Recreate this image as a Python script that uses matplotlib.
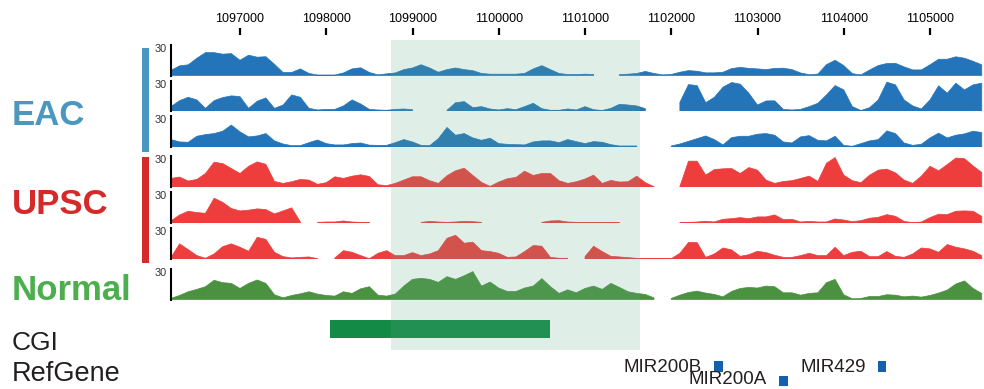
import numpy as np
import matplotlib
matplotlib.use("Agg")
import matplotlib.pyplot as plt
from matplotlib.patches import Rectangle

nan = np.nan

# ---------------- data ----------------
bin_start = 1096200
bin_size = 100

eac1 = [5, 9.5, 10.5, 17, 22.5, 22.5, 21, 21.5, 15, 20,
        18, 18.5, 11, 3, 3, 6.5, 2, 0.5, 0.5, 0.5,
        2.5, 6.5, 7.6, 3, 0.6, 1.6, 2.5, 5.8, 7.4, 10.6,
        7.4, 3.2, 5.8, 7.4, 5.8, 4.8, 2, 1.3, 1.3, 1.3,
        1.3, 2, 6.5, 9.7, 5.8, 2, 1, 1, 1.3, 1,
        nan, nan, 1, 1.3, 2, 4, 2, 0.6, 1, 3.2,
        4.8, 4.2, 2.6, 2.6, 3.2, 6.8, 8, 7, 6.5, 5.8,
        7, 7.2, 5.8, 2.5, 0.8, 1.4, 10.7, 15, 9.8, 1.8,
        0.6, 5.4, 9.8, 11.8, 12, 8.5, 5.5, 5.5, 10.5, 16,
        16, 18.4, 17, 14, 10.5]

eac2 = [4.3, 10.2, 13.5, 10.9, 2.6, 10.2, 13.2, 14.9, 14.2, 2.6,
        9.6, 12.9, 2.6, 5.9, 15.8, 13.5, 2.6, 1, 1.6, 1.6,
        5, 10.9, 6.9, 1.6, 1, 0.7, 1.6, 2, 1.3, nan,
        nan, nan, 0.7, 8.2, 9.2, 3.3, 4.3, 2, 1, 2.3,
        1.3, 4.3, 7.6, 2.3, 0.7, 0.7, 2, 1, 4.3, 1.3,
        0.5, 2.6, 6.6, 5.9, 5, 2.3, nan, nan, nan, 8.5,
        26, 25, 8.2, 13.5, 23.4, 28, 26.4, 17.5, 5.9, 9.9,
        10, 1.6, 1, 1.6, 4.3, 7.6, 15.8, 25, 20.8, 4.3,
        0.5, 3.3, 10.9, 28.4, 25.7, 10.9, 5, 2, 10.9, 24.8,
        17.5, 27.4, 20.8, 25.7, 27.4]

eac3 = [7.2, 4.9, 4.6, 10.4, 12, 13, 15.3, 21.2, 14.7, 9.8,
        10.7, 13, 5.9, 2.9, 1.3, 1.3, 4.2, 6.8, 3.3, 2,
        2, 3.3, 3.9, 1.8, 1.6, 1.6, 4.2, 7.2, 4.9, 1.6,
        1.3, 8.1, 18.9, 11.4, 13, 8.8, 6.5, 8.5, 3.3, 2.6,
        2.3, 2, 4.9, 5.9, 5.9, 4.2, 7.2, 5.2, 3.3, 5.2,
        4.6, 2.3, 1, 1, 1, nan, nan, nan, 1, 2.9,
        5.5, 8.1, 10.7, 7.2, 2, 9.1, 10.4, 10.4, 12.4, 13,
        11.4, 4.9, 3.9, 9.8, 11, 6.5, 5.9, 10.4, 1.6, 0.7,
        3.3, 5.9, 7.2, 15.6, 13, 3.9, 1.6, 2.6, 8.8, 13.4,
        8.8, 11.4, 12.7, 15.3, 14]

upsc1 = [8.3, 9.6, 5.8, 7.3, 13.1, 24, 22.7, 17.9, 13.1, 20,
         24.3, 22, 5.4, 3.5, 5.1, 7.3, 6.7, 2.6, 4.2, 9.9,
         8.3, 10.5, 11.8, 10.2, 2.2, 1.3, 3.5, 6.7, 9.9, 9.9,
         6.1, 3.5, 10.9, 15.7, 18.2, 11.2, 4.5, 0.6, 4.8, 8,
         9.3, 15.3, 11.2, 13.1, 13.1, 6.1, 3.5, 5.1, 7.7, 11.5,
         3.5, 6.4, 4.8, 5.1, 10.5, 4.2, 0.3, nan, nan, 0.5,
         25, 25, 11.5, 16.9, 17.6, 17.9, 13.1, 18.8, 16.3, 6.7,
         3.5, 5.4, 6.1, 8.3, 10.5, 5.4, 23, 28.5, 11.5, 6.1,
         4.2, 11.5, 16.3, 17.3, 13.7, 6.7, 3.5, 10.5, 20.1, 15.7,
         21.7, 28, 27.5, 20.4, 14]

upsc2 = [2, 7.8, 11.4, 10.1, 9.4, 24, 20, 14, 11.7, 12.4,
         13.7, 13, 8.8, 11.7, 14.7, 1, nan, 0.6, 1, 1,
         2, 1, 0.6, 0.6, nan, nan, nan, nan, nan, 0.6,
         1.6, 1, 0.6, 1, 1.6, 1.3, 0.6, nan, nan, nan,
         nan, nan, nan, 0.6, 2, 2.3, 1, 0.6, 0.3, 0.3,
         0.3, 0.3, 0.3, nan, nan, nan, nan, nan, nan, 0.6,
         0.6, 1, 1.6, 1, 3.6, 4.2, 5.2, 4.2, 5.9, 5.9,
         7.8, 3.3, 3.6, 1, 1.6, 1, 1, 3.9, 2.9, 1.3,
         2.3, 4.6, 5.5, 8.1, 6.5, 1.6, 0.3, 1, 5.2, 8.5,
         8.1, 11.4, 11.7, 11.4, 6.5]

upsc3 = [1.6, 14.7, 9.1, 3.3, 0.7, 4.9, 12, 14.7, 11.4, 7.5,
         21, 19, 6.5, 2.3, 1, 1.6, 2, 0.3, nan, 1,
         8.1, 6.5, 3.3, 0.3, 5.5, 8.1, 3.3, 3.3, 6.2, 3.3,
         4.9, 8.1, 20, 23, 15.3, 16.3, 8.1, 7.2, 5.5, 1.6,
         2, 7.2, 13, 12.4, 1.6, 0.7, 0.7, nan, 2.3, 12.4,
         7.2, 2.6, 2, 1.3, 0.7, 0.3, 0.3, 0.3, 0.3, 5.5,
         16, 16, 1.6, 4.9, 10.7, 8.8, 2.6, 4.2, 7.5, 6.2,
         3.6, 1.6, 1.6, 3.3, 5.5, 3.3, 3.3, 11.4, 3.3, 6.5,
         7.5, 2.3, 2.3, 7.2, 2.6, 1.6, 4.9, 10.7, 9.8, 6.5,
         14, 11.4, 9.8, 7.5, 3.3]

normal = [1, 3.9, 7.5, 9.8, 12.4, 18.6, 16.3, 15.6, 10.7, 15.6,
          18.9, 15.6, 4.6, 1.6, 3.9, 5.5, 7.5, 5.2, 3.9, 3.3,
          7.5, 5.9, 10.4, 12.4, 4.2, 3.3, 5.2, 13, 19.5, 20.5,
          19.5, 16.6, 22.1, 19.5, 23, 27, 13, 16.9, 11.1, 7.8,
          7.8, 11.1, 13, 20.2, 12.4, 5.9, 9.4, 6.5, 10.7, 13,
          9.8, 15.6, 11.7, 7.5, 5.9, 4.9, 1.6, nan, 1, 4.2,
          6.8, 8.1, 6.2, 4.9, 2.6, 7.8, 10.7, 11.7, 11.1, 13,
          12.4, 6.5, 6.5, 4.2, 5.9, 6.5, 16.3, 19.5, 4.6, 0.7,
          1, 2.9, 2.9, 4.6, 4.2, 2.6, 3.3, 2.3, 3.9, 6.2,
          9.1, 15, 18, 10.7, 5.9]

track_values = [eac1, eac2, eac3, upsc1, upsc2, upsc3, normal]
track_groups = ["EAC", "EAC", "EAC", "UPSC", "UPSC", "UPSC", "Normal"]
track_max = 30

axis_ticks = [1097000, 1098000, 1099000, 1100000, 1101000,
              1102000, 1103000, 1104000, 1105000]

highlight = (1098750, 1101640)
cgi_regions = [(1098043, 1100594)]
gene_names = ["MIR200B", "MIR200A", "MIR429"]
gene_starts = [1102496, 1103249, 1104397]
gene_ends = [1102600, 1103353, 1104490]
gene_rows = [0, 1, 0]

# ---------------- style / layout ----------------
plt.rcParams["font.family"] = ["Liberation Sans", "DejaVu Sans"]
W, H = 984, 389
fig = plt.figure(figsize=(W / 100, H / 100), dpi=100)

group_fill = {"EAC": "#2474b9", "UPSC": "#ee3d3d", "Normal": "#4a9140"}
group_label_color = {"EAC": "#4a98c0", "UPSC": "#d42a2a", "Normal": "#4cae4c"}

X0, X1 = 171, 984
XLIM = (1096200, 1105626)
track_px = [(45, 75.5), (80.5, 111), (116, 147), (156, 187),
            (192, 223), (228, 259), (268.5, 299.5)]

def frac_y(y):
    return 1 - y / H

# background axes in pixel coordinates
ax_bg = fig.add_axes([0, 0, 1, 1], zorder=0)
ax_bg.set_xlim(0, W)
ax_bg.set_ylim(H, 0)
ax_bg.axis("off")

# group bars
ax_bg.add_patch(Rectangle((142, 48), 7, 104, color=group_label_color["EAC"], lw=0))
ax_bg.add_patch(Rectangle((142, 157), 7, 106, color=group_label_color["UPSC"], lw=0))

# group labels
for name, yb in [("EAC", 125), ("UPSC", 213.5), ("Normal", 300)]:
    ax_bg.text(12, yb, name, fontsize=25, fontweight="bold",
               color=group_label_color[name], ha="left", va="baseline")
ax_bg.text(12, 349.5, "CGI", fontsize=19, color="#231f20", ha="left", va="baseline")
ax_bg.text(12, 381, "RefGene", fontsize=19.5, color="#231f20", ha="left", va="baseline")

# tracks
pos = bin_start + bin_size * np.arange(len(eac1))
for vals, grp, (top, bot) in zip(track_values, track_groups, track_px):
    ax = fig.add_axes([X0 / W, frac_y(bot), (X1 - X0) / W, (bot - top) / H], zorder=2)
    ax.patch.set_alpha(0)
    v = np.array(vals, dtype=float)
    ax.fill_between(pos, v, 0, where=~np.isnan(v), color=group_fill[grp],
                    lw=0.5, edgecolor=group_fill[grp], interpolate=False)
    ax.set_xlim(*XLIM)
    ax.set_ylim(0, track_max)
    for s in ["top", "right", "bottom"]:
        ax.spines[s].set_visible(False)
    ax.spines["left"].set_linewidth(1.5)
    ax.spines["left"].set_color("black")
    ax.set_xticks([])
    ax.set_yticks([])
    ax_bg.text(166.5, top - 1, str(track_max), fontsize=7.8, color="#333333",
               ha="right", va="top")

# top coordinate axis
ax_t = fig.add_axes([X0 / W, frac_y(35), (X1 - X0) / W, 0.0001], zorder=3)
ax_t.patch.set_alpha(0)
for s in ax_t.spines.values():
    s.set_visible(False)
ax_t.set_xlim(*XLIM)
ax_t.set_yticks([])
ax_t.xaxis.set_ticks_position("top")
ax_t.xaxis.set_label_position("top")
ax_t.set_xticks(axis_ticks)
ax_t.set_xticklabels([str(t) for t in axis_ticks])
ax_t.tick_params(axis="x", direction="out", length=5, width=1.6, pad=2,
                 labelsize=9, colors="black")

# annotation axes (genomic x, pixel y)
ax_a = fig.add_axes([X0 / W, 0, (X1 - X0) / W, 1], zorder=1)
ax_a.set_xlim(*XLIM)
ax_a.set_ylim(H, 0)
ax_a.axis("off")
for s, e in cgi_regions:
    ax_a.add_patch(Rectangle((s, 320), e - s, 17.5, color="#138a45", lw=0))
row_y = [(361, 372, 371.5), (376, 386, 384.5)]
for name, s, e, r in zip(gene_names, gene_starts, gene_ends, gene_rows):
    y0, y1, yb = row_y[r]
    ax_a.add_patch(Rectangle((s, y0), e - s, y1 - y0, color="#1560ad", lw=0))
    ax_a.annotate(name, xy=(s, yb), xytext=(-8.6, 0), textcoords="offset points",
                  ha="right", va="baseline", fontsize=13.5, color="#231f20",
                  annotation_clip=False)

# highlight overlay
ax_o = fig.add_axes([X0 / W, 0, (X1 - X0) / W, 1], zorder=10)
ax_o.patch.set_alpha(0)
ax_o.set_xlim(*XLIM)
ax_o.set_ylim(H, 0)
ax_o.axis("off")
ax_o.add_patch(Rectangle((highlight[0], 40), highlight[1] - highlight[0], 310,
                         color="#61ad8a", alpha=0.2, lw=0))

fig.savefig("out.png", dpi=100)
